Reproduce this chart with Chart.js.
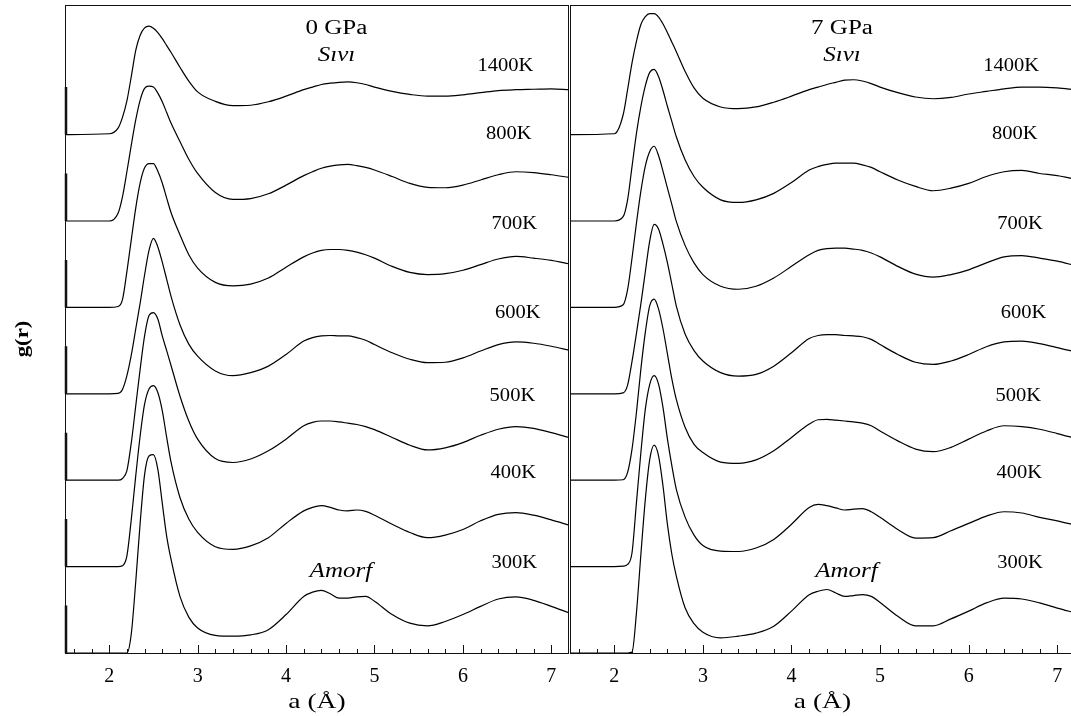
<!DOCTYPE html>
<html>
<head>
<meta charset="utf-8">
<script src="https://cdn.jsdelivr.net/npm/chart.js@4.4.1/dist/chart.umd.min.js"></script>
<style>
  html, body { margin: 0; padding: 0; background: #fff; }
  body { width: 1071px; height: 716px; overflow: hidden; position: relative; }
  canvas { position: absolute; top: 0; }
  #left { left: 0; }
  #right { left: 569px; }
</style>
</head>
<body>
<canvas id="left" width="569" height="716"></canvas>
<canvas id="right" width="506" height="716"></canvas>
<script>
/* global Chart */

// r grid (Å) shared by every curve
const rGrid = [1.5, 2.0, 2.1, 2.15, 2.2, 2.25, 2.3, 2.35, 2.4, 2.45, 2.5, 2.55, 2.6, 2.65, 2.7,
  2.8, 2.9, 3.0, 3.2, 3.4, 3.6, 3.8, 4.0, 4.2, 4.3, 4.4, 4.5, 4.6, 4.7, 4.8, 4.9, 5.0,
  5.2, 5.4, 5.6, 5.8, 6.0, 6.2, 6.4, 6.6, 6.8, 7.0, 7.2];

const temps = ['1400K', '800K', '700K', '600K', '500K', '400K', '300K'];
const offsets = [12, 10, 8, 6, 4, 2, 0];
const xTicks = [2, 3, 4, 5, 6, 7];

// 0 GPa g(r)
const g0_1400 = [0, 0.02, 0.15, 0.40, 0.78, 1.35, 1.95, 2.30, 2.47, 2.51, 2.46, 2.36, 2.22, 2.06, 1.90, 1.56, 1.24, 0.99, 0.77, 0.67, 0.68, 0.76, 0.89, 1.04, 1.10, 1.16, 1.19, 1.21, 1.22, 1.20, 1.16, 1.10, 1.00, 0.93, 0.89, 0.89, 0.92, 0.97, 1.02, 1.04, 1.05, 1.06, 1.04];
const g0_800 = [0, 0, 0.18, 0.56, 1.14, 1.76, 2.34, 2.80, 3.07, 3.12, 3.10, 2.96, 2.76, 2.51, 2.26, 1.84, 1.43, 1.10, 0.66, 0.50, 0.52, 0.63, 0.83, 1.05, 1.14, 1.22, 1.27, 1.30, 1.31, 1.28, 1.24, 1.18, 1.03, 0.87, 0.78, 0.77, 0.83, 0.95, 1.07, 1.14, 1.12, 1.07, 1.01];
const g0_700 = [0, 0, 0.02, 0.18, 0.83, 1.57, 2.30, 2.88, 3.23, 3.33, 3.33, 3.15, 2.88, 2.53, 2.19, 1.68, 1.22, 0.91, 0.58, 0.50, 0.54, 0.68, 0.93, 1.17, 1.26, 1.32, 1.34, 1.34, 1.32, 1.28, 1.22, 1.14, 0.95, 0.81, 0.76, 0.78, 0.86, 0.99, 1.12, 1.18, 1.14, 1.09, 1.01];
const g0_600 = [0, 0, 0.01, 0.10, 0.42, 0.90, 1.50, 2.10, 2.75, 3.32, 3.60, 3.40, 3.05, 2.65, 2.25, 1.60, 1.15, 0.87, 0.53, 0.42, 0.49, 0.64, 0.91, 1.22, 1.30, 1.34, 1.35, 1.34, 1.34, 1.30, 1.24, 1.14, 0.95, 0.80, 0.72, 0.73, 0.83, 0.99, 1.14, 1.20, 1.17, 1.10, 1.01];
const g0_500 = [0, 0, 0, 0.04, 0.22, 0.87, 1.72, 2.57, 3.34, 3.81, 3.88, 3.73, 3.34, 3.00, 2.65, 1.95, 1.37, 0.95, 0.50, 0.41, 0.49, 0.68, 0.95, 1.26, 1.34, 1.37, 1.37, 1.35, 1.32, 1.29, 1.24, 1.17, 0.99, 0.81, 0.70, 0.75, 0.87, 1.04, 1.18, 1.24, 1.20, 1.10, 0.99];
const g0_400 = [0, 0, 0, 0.02, 0.25, 1.10, 2.10, 3.03, 3.76, 4.11, 4.19, 4.03, 3.61, 2.99, 2.41, 1.60, 1.10, 0.79, 0.46, 0.40, 0.48, 0.67, 1.00, 1.29, 1.37, 1.41, 1.37, 1.31, 1.29, 1.31, 1.28, 1.19, 0.98, 0.79, 0.67, 0.73, 0.86, 1.06, 1.21, 1.25, 1.19, 1.08, 0.96];
const g0_300 = [0, 0, 0, 0, 0, 0.45, 1.65, 3.01, 4.13, 4.56, 4.59, 4.25, 3.47, 2.70, 2.16, 1.31, 0.83, 0.58, 0.41, 0.39, 0.42, 0.54, 0.89, 1.31, 1.41, 1.45, 1.37, 1.27, 1.27, 1.30, 1.31, 1.20, 0.89, 0.69, 0.63, 0.73, 0.89, 1.08, 1.25, 1.30, 1.22, 1.08, 0.93];

// 7 GPa g(r)
const g7_1400 = [0, 0.02, 0.46, 1.04, 1.66, 2.16, 2.55, 2.73, 2.80, 2.80, 2.72, 2.56, 2.36, 2.14, 1.92, 1.46, 1.08, 0.84, 0.64, 0.60, 0.64, 0.75, 0.89, 1.04, 1.10, 1.16, 1.21, 1.26, 1.27, 1.24, 1.18, 1.10, 0.97, 0.87, 0.83, 0.86, 0.94, 1.00, 1.06, 1.10, 1.10, 1.08, 1.04];
const g7_800 = [0, 0, 0.10, 0.49, 1.26, 2.03, 2.65, 3.13, 3.44, 3.51, 3.34, 3.02, 2.65, 2.30, 1.95, 1.41, 1.03, 0.78, 0.49, 0.43, 0.49, 0.64, 0.89, 1.18, 1.26, 1.31, 1.34, 1.34, 1.34, 1.30, 1.24, 1.14, 0.95, 0.80, 0.70, 0.76, 0.87, 1.03, 1.14, 1.17, 1.10, 1.05, 0.97];
const g7_700 = [0, 0, 0.06, 0.41, 1.14, 1.95, 2.69, 3.27, 3.61, 3.73, 3.51, 3.15, 2.76, 2.38, 1.99, 1.43, 1.03, 0.76, 0.49, 0.42, 0.49, 0.68, 0.95, 1.22, 1.32, 1.36, 1.37, 1.37, 1.35, 1.32, 1.26, 1.17, 0.95, 0.77, 0.70, 0.76, 0.87, 1.03, 1.17, 1.20, 1.14, 1.07, 0.97];
const g7_600 = [0, 0, 0.02, 0.20, 0.75, 1.40, 2.08, 2.82, 3.54, 3.92, 3.81, 3.46, 3.03, 2.53, 2.03, 1.38, 1.00, 0.76, 0.49, 0.41, 0.45, 0.64, 0.95, 1.28, 1.35, 1.37, 1.37, 1.35, 1.34, 1.32, 1.26, 1.14, 0.91, 0.73, 0.68, 0.76, 0.91, 1.09, 1.20, 1.22, 1.16, 1.07, 0.97];
const g7_500 = [0, 0, 0.01, 0.18, 0.72, 1.57, 2.57, 3.42, 4.04, 4.19, 3.96, 3.50, 2.92, 2.34, 1.87, 1.22, 0.83, 0.64, 0.42, 0.39, 0.47, 0.68, 0.99, 1.30, 1.40, 1.41, 1.39, 1.37, 1.35, 1.32, 1.26, 1.14, 0.91, 0.72, 0.66, 0.76, 0.95, 1.14, 1.26, 1.24, 1.18, 1.08, 0.97];
const g7_400 = [0, 0, 0.01, 0.05, 0.32, 1.48, 2.64, 3.64, 4.22, 4.42, 4.22, 3.68, 2.95, 2.33, 1.79, 1.14, 0.73, 0.49, 0.36, 0.35, 0.43, 0.63, 0.98, 1.37, 1.44, 1.41, 1.36, 1.31, 1.33, 1.34, 1.27, 1.14, 0.86, 0.66, 0.67, 0.83, 1.00, 1.17, 1.27, 1.24, 1.14, 1.06, 0.96];
const g7_300 = [0, 0, 0, 0, 0.02, 0.93, 2.28, 3.55, 4.48, 4.81, 4.56, 3.86, 2.97, 2.28, 1.78, 1.04, 0.68, 0.48, 0.35, 0.39, 0.46, 0.62, 0.97, 1.35, 1.43, 1.47, 1.39, 1.31, 1.33, 1.35, 1.31, 1.17, 0.85, 0.63, 0.63, 0.79, 0.97, 1.16, 1.27, 1.25, 1.16, 1.04, 0.93];

const curves0 = [g0_1400, g0_800, g0_700, g0_600, g0_500, g0_400, g0_300];
const curves7 = [g7_1400, g7_800, g7_700, g7_600, g7_500, g7_400, g7_300];

/* Annotation anchors, in data coordinates */
const tempLabelX = [6.48, 6.52, 6.58, 6.62, 6.56, 6.57, 6.58];
const tempLabelY = [13.58, 12.02, 9.94, 7.87, 5.95, 4.16, 2.09];
const SERIF = '"Liberation Serif", "Times New Roman", serif';

function stretchText(ctx, str, x, y, font, sx, rot) {
  ctx.save();
  ctx.translate(x, y);
  if (rot) ctx.rotate(rot);
  ctx.scale(sx, 1);
  ctx.font = font;
  ctx.fillStyle = '#000';
  ctx.textAlign = 'center';
  ctx.textBaseline = 'middle';
  ctx.fillText(str, 0, 0);
  ctx.restore();
}

/* Frame, inward ticks and text for one panel */
const panelDeco = {
  id: 'panelDeco',
  afterDraw(chart, args, opts) {
    const { ctx, chartArea: a, scales: { x, y } } = chart;
    ctx.save();
    ctx.strokeStyle = '#111';
    ctx.lineWidth = 1;
    ctx.strokeRect(a.left + 0.5, a.top + 0.5, a.right - a.left - 1, a.bottom - a.top);

    // minor ticks every 0.2, major on integers
    ctx.beginPath();
    for (let k = 8; k <= 36; k++) {
      const px = Math.round(x.getPixelForValue(k / 5)) + 0.5;
      const len = (k % 5 === 0) ? 8 : 4;
      ctx.moveTo(px, a.bottom);
      ctx.lineTo(px, a.bottom - len);
    }
    ctx.stroke();

    if (opts.leftMarks) {
      ctx.lineWidth = 2.5;
      ctx.beginPath();
      offsets.forEach(o => {
        ctx.moveTo(a.left + 1, y.getPixelForValue(o));
        ctx.lineTo(a.left + 1, y.getPixelForValue(o + 1.1));
      });
      ctx.stroke();
    }
    ctx.restore();

    temps.forEach((t, i) => {
      stretchText(ctx, t, x.getPixelForValue(tempLabelX[i]), y.getPixelForValue(tempLabelY[i]),
        '19px ' + SERIF, 1.08);
    });
    stretchText(ctx, opts.pressure, x.getPixelForValue(4.57), y.getPixelForValue(14.45), '20px ' + SERIF, 1.25);
    stretchText(ctx, 'Sıvı', x.getPixelForValue(4.57), y.getPixelForValue(13.83), 'italic 20px ' + SERIF, 1.25);
    stretchText(ctx, 'Amorf', x.getPixelForValue(4.62), y.getPixelForValue(1.88), 'italic 20px ' + SERIF, 1.25);

    // axis titles
    stretchText(ctx, 'a (Å)', (a.left + a.right) / 2, 702, '22px ' + SERIF, 1.25);
    if (opts.yTitle) {
      stretchText(ctx, 'g(r)', 23, 339, 'bold 19px ' + SERIF, 1.2, -Math.PI / 2);
    }
  }
};

function buildDatasets(curves) {
  return curves.map((g, i) => ({
    label: temps[i],
    data: rGrid.map((r, j) => ({ x: r, y: offsets[i] + g[j] })),
    borderColor: '#000',
    borderWidth: 1.2,
    pointRadius: 0,
    fill: false,
    cubicInterpolationMode: 'monotone'
  }));
}

function panelConfig(curves, pressure, padLeft, isLeft) {
  return {
    type: 'line',
    data: { datasets: buildDatasets(curves) },
    options: {
      responsive: false,
      animation: false,
      layout: { padding: { top: 5, left: padLeft, right: 0, bottom: 0 } },
      plugins: {
        legend: { display: false },
        tooltip: { enabled: false },
        panelDeco: { pressure: pressure, leftMarks: isLeft, yTitle: isLeft }
      },
      scales: {
        x: {
          type: 'linear',
          min: 1.5,
          max: 7.2,
          afterBuildTicks: s => { s.ticks = xTicks.map(v => ({ value: v })); },
          afterFit: s => { s.height = 63; },
          grid: { display: false, drawTicks: false },
          border: { display: false },
          ticks: { color: '#000', padding: 12, maxRotation: 0, font: { family: SERIF, size: 20 } }
        },
        y: {
          type: 'linear',
          min: 0,
          max: 15,
          display: false
        }
      }
    },
    plugins: [panelDeco]
  };
}

new Chart(document.getElementById('left'), panelConfig(curves0, '0 GPa', 65, true));
new Chart(document.getElementById('right'), panelConfig(curves7, '7 GPa', 1, false));
</script>
</body>
</html>
